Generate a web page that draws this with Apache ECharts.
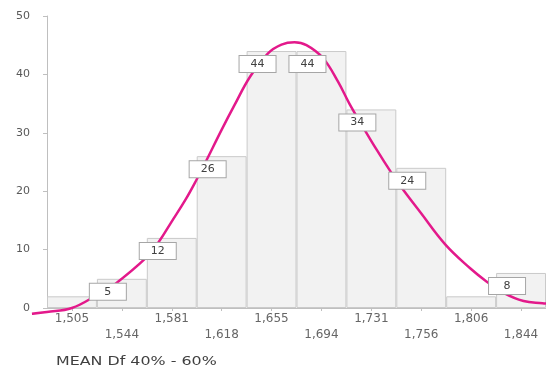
<!DOCTYPE html>
<html>
<head>
<meta charset="utf-8">
<script src="https://cdn.jsdelivr.net/npm/echarts@6/dist/echarts.min.js"></script>
<style>html,body{margin:0;padding:0;background:#fff;}#chart{width:546px;height:369px;}</style>
</head>
<body>
<div id="chart"></div>
<script>
// Bin tick labels (x axis)
var categories = ['1,505','1,544','1,581','1,618','1,655','1,694','1,731','1,756','1,806','1,844'];
// Histogram counts per bin
var counts = [2, 5, 12, 26, 44, 44, 34, 24, 2, 6];
// Labels shown in boxes on the bars
var labelTexts = ['', '5', '12', '26', '44', '44', '34', '24', '', '8'];
// Fitted curve: bin position and value
var curveX = [-0.3, 0, 0.5, 1.0, 1.35, 2.0, 2.24, 2.5, 2.78, 3.0, 3.18, 3.5, 3.75, 4.07, 4.43, 4.7, 4.96, 5.2, 5.53, 5.83, 6.06, 6.36, 6.6, 6.89, 7.09, 7.49, 7.98, 8.48, 8.8, 9.15, 9.55, 9.93, 10.0];
var curveY = [-1.0, -0.7, 0.0, 2.2, 4.0, 8.7, 11.3, 14.8, 18.6, 22.0, 25.0, 30.5, 34.6, 39.6, 43.6, 45.1, 45.5, 45.0, 42.8, 38.8, 35.0, 30.6, 27.2, 23.3, 20.8, 16.3, 10.9, 6.8, 4.6, 2.6, 1.2, 0.8, 0.75];
var yTicks = {min: 0, max: 50, interval: 10};
var titleText = 'MEAN Df 40% - 60%';

var curveData = curveX.map(function (x, i) { return [x, curveY[i]]; });
var labelData = counts.map(function (v, i) {
  return {value: v, label: {show: labelTexts[i] !== ''}};
});

// plot area geometry
var gLeft = 47, gRight = -3, gTop = 16, gBottom = 61;
var binW = (546 - gLeft - gRight) / categories.length;
var unitH = (369 - gTop - gBottom) / (yTicks.max - yTicks.min);

var chart = echarts.init(document.getElementById('chart'));
chart.setOption({
  animation: false,
  graphic: [{
    type: 'text', left: 56, top: 356, scaleX: 1.38, originX: 0,
    style: {text: titleText, fontFamily: 'DejaVu Sans', fontSize: 11.5, fill: '#404040'}
  }],
  grid: [
    {left: gLeft, right: gRight, top: gTop, bottom: gBottom},
    // same scale, extended so the curve may start left of / below the axes
    {left: gLeft - 0.3 * binW, right: gRight, top: gTop, bottom: gBottom - 1 * unitH}
  ],
  xAxis: [{
    type: 'category',
    gridIndex: 0,
    data: categories,
    boundaryGap: true,
    axisLine: {show: true, lineStyle: {color: '#bfbfbf', width: 1}},
    axisTick: {show: true, alignWithLabel: true, length: 3, lineStyle: {color: '#bfbfbf'}},
    axisLabel: {
      interval: 0, margin: 3, lineHeight: 16,
      fontFamily: 'DejaVu Sans', fontSize: 12, color: '#666',
      formatter: function (v, i) { return i % 2 ? '\n' + v : v; }
    },
    splitLine: {show: false}
  }, {
    type: 'value', gridIndex: 1, min: -0.3, max: 10, show: false
  }],
  yAxis: [{
    type: 'value', gridIndex: 0, min: yTicks.min, max: yTicks.max, interval: yTicks.interval,
    axisLine: {show: true, lineStyle: {color: '#bfbfbf', width: 1}},
    axisTick: {show: true, length: 4, lineStyle: {color: '#bfbfbf'}},
    axisLabel: {margin: 17, fontFamily: 'DejaVu Sans', fontSize: 11, color: '#595959'},
    splitLine: {show: false}
  }, {
    type: 'value', gridIndex: 1, min: -1, max: 50, show: false
  }],
  series: [{
    type: 'bar',
    data: counts,
    barCategoryGap: '0%',
    barGap: '-100%',
    itemStyle: {color: '#f2f2f2', borderColor: '#cacaca', borderWidth: 1},
    z: 2,
    silent: true
  }, {
    type: 'line',
    xAxisIndex: 1, yAxisIndex: 1,
    data: curveData,
    smooth: 0.4,
    showSymbol: false,
    lineStyle: {color: '#e3198b', width: 2.5},
    z: 3,
    silent: true
  }, {
    type: 'bar',
    data: labelData,
    barCategoryGap: '0%',
    barGap: '-100%',
    itemStyle: {color: 'rgba(0,0,0,0)', borderWidth: 0},
    z: 5,
    silent: true,
    label: {
      position: 'insideTop', distance: 5, offset: [-14, 0],
      formatter: function (p) { return labelTexts[p.dataIndex]; },
      backgroundColor: '#fff', borderColor: '#a6a6a6', borderWidth: 1,
      padding: [2, 6], width: 24, height: 12, lineHeight: 12, align: 'center',
      fontFamily: 'DejaVu Sans', fontSize: 11, color: '#404040'
    }
  }]
});
</script>
</body>
</html>
